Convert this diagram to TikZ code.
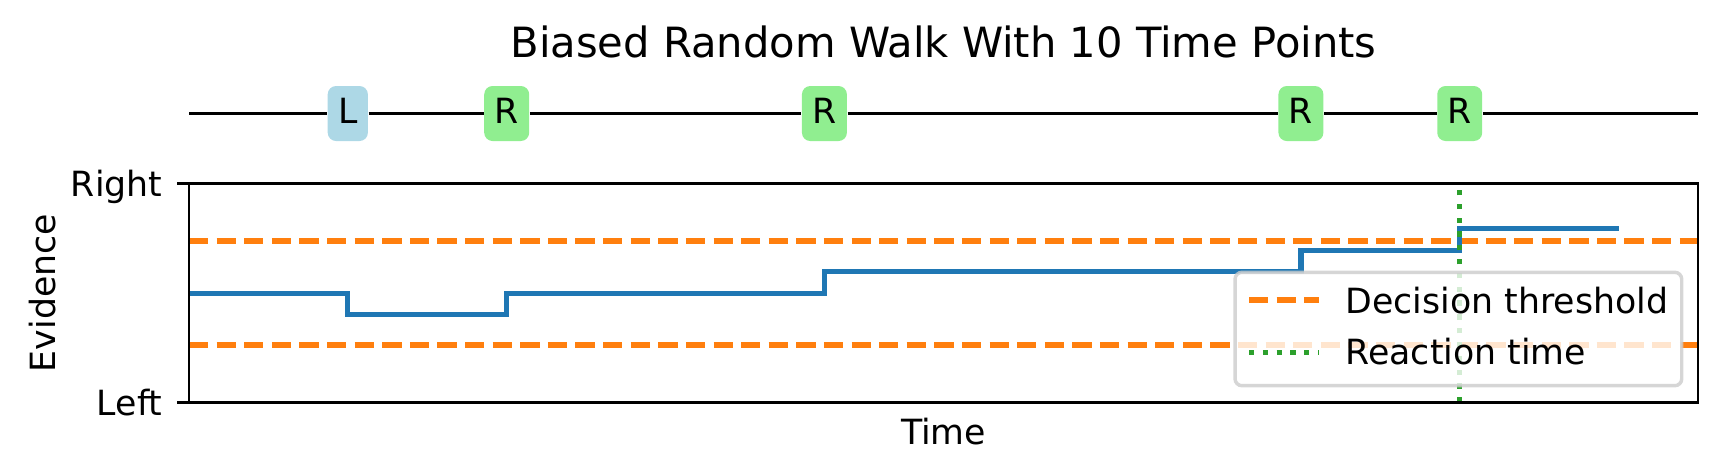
\documentclass[tikz,border=0pt]{standalone}
\usepackage{fontspec}
\setmainfont{DejaVu Sans}
\definecolor{mblue}{HTML}{1F77B4}
\definecolor{morange}{HTML}{FF7F0E}
\definecolor{mgreen}{HTML}{2CA02C}
\definecolor{lblue}{HTML}{ADD8E6}
\definecolor{lgreen}{HTML}{90EE90}
\definecolor{legedge}{HTML}{CCCCCC}
\begin{document}
\begin{tikzpicture}[x=0.288pt,y=-0.288pt,
  evbox/.style={rounded corners=2.4pt, inner xsep=3pt, inner ysep=3.55pt, text height=7.29pt, text depth=1.45pt, font=\fontsize{10}{12}\selectfont},
  lbox/.style={evbox, fill=lblue},
  rbox/.style={evbox, fill=lgreen},
  thr/.style={morange, line width=1.5pt, dash pattern=on 5.55pt off 2.4pt},
  rt/.style={mgreen, line width=1.5pt, dash pattern=on 1.5pt off 2.475pt},
  walk/.style={mblue, line width=1.5pt},
  spine/.style={black, line width=0.8pt},
  lab/.style={font=\fontsize{10}{12}\selectfont, inner sep=0pt},
  ttl/.style={font=\fontsize{12}{14}\selectfont, inner sep=0pt}
]
\useasboundingbox (0,0) rectangle (1725,475);
% title
\node[ttl, anchor=base] (title) at (943.5,57.7) {Biased Random Walk With 10 Time Points};
% timeline
\coordinate (tl0) at (189,113.5);
\coordinate (tl1) at (1698,113.5);
\node[lbox] (tL) at (347.8,113.5) {L};
\node[rbox] (tR1) at (506.7,113.5) {R};
\node[rbox] (tR2) at (824.4,113.5) {R};
\node[rbox] (tR3) at (1300.9,113.5) {R};
\node[rbox] (tR4) at (1459.7,113.5) {R};
\draw[line width=1pt] (tl0) -- (tL) -- (tR1) -- (tR2) -- (tR3) -- (tR4) -- (tl1);
% thresholds
\draw[thr] (189,241) -- (1698,241);
\draw[thr] (189,345) -- (1698,345);
% walk
\draw[walk] (189,293.3) -- (347.8,293.3) -- (347.8,314.8) -- (506.7,314.8) -- (506.7,293.3)
  -- (824.4,293.3) -- (824.4,271.8) -- (1300.9,271.8) -- (1300.9,250.3) -- (1459.7,250.3)
  -- (1459.7,228.8) -- (1618.6,228.8);
% reaction time
\draw[rt] (1459.7,402.3) -- (1459.7,183.3);
% spines and ticks
\draw[spine] (189,183.3) rectangle (1698,402.3);
\draw[spine] (177,183.3) -- (189,183.3);
\draw[spine] (177,402.3) -- (189,402.3);
\node[lab, anchor=base east] (yR) at (163,196) {Right};
\node[lab, anchor=base east] (yL) at (163,415) {Left};
\node[lab, rotate=90] (ylab) at (43,293) {Evidence};
\node[lab, anchor=base] (xlab) at (943.5,444) {Time};
% legend
\draw[draw=legedge, line width=1pt, fill=white, opacity=0.8, rounded corners=2pt] (1235,272.3) rectangle (1681.7,385.7);
\draw[thr] (1249,300) -- (1319,300);
\draw[rt] (1249,352.3) -- (1319,352.3);
\node[lab, anchor=base west] (legD) at (1345,313.3) {Decision threshold};
\node[lab, anchor=base west] (legR) at (1345,364) {Reaction time};
\end{tikzpicture}
\end{document}
